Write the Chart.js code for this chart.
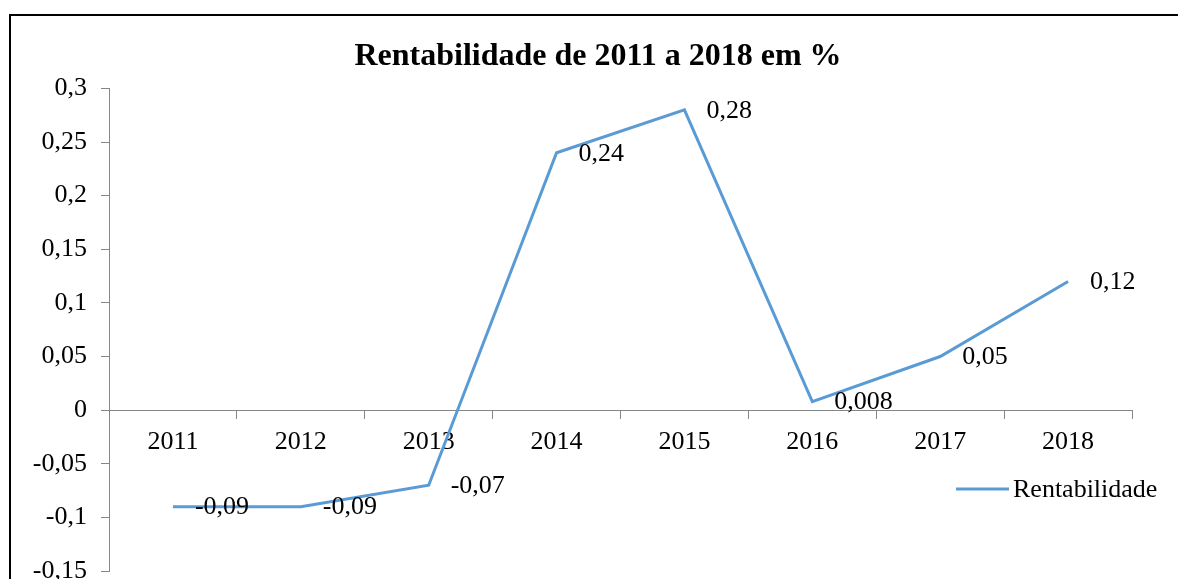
<!DOCTYPE html>
<html>
<head>
<meta charset="utf-8">
<script src="https://cdn.jsdelivr.net/npm/chart.js@4/dist/chart.umd.min.js"></script>
<style>
  html, body { margin: 0; padding: 0; background: #fff; overflow: hidden; }
  #wrap { position: relative; width: 1178px; height: 579px; }
  #frame { position: absolute; left: 9px; top: 14px; width: 1400px; height: 800px; border: 2px solid #000; }
  #chart { position: absolute; left: 0; top: 0; }
</style>
</head>
<body>
<div id="wrap">
  <div id="frame"></div>
  <canvas id="chart" width="1178" height="579"></canvas>
</div>
<script>
// dados
const anos = ["2011", "2012", "2013", "2014", "2015", "2016", "2017", "2018"];
const rentabilidade = [-0.09, -0.09, -0.07, 0.24, 0.28, 0.008, 0.05, 0.12];
const yMin = -0.15;
const yMax = 0.3;
const yStep = 0.05;

const FONT = "'Liberation Serif', 'Times New Roman', serif";
const AXIS_GREY = "#868686";
const LINE_BLUE = "#5B9BD5";

// número com vírgula decimal
function fmt(v) {
  return String(Number(v.toFixed(3))).replace(".", ",");
}

// rótulos de dados à direita de cada ponto
const dataLabels = {
  id: "dataLabels",
  afterDatasetsDraw(chart) {
    const ctx = chart.ctx;
    const meta = chart.getDatasetMeta(0);
    ctx.save();
    ctx.font = "26px " + FONT;
    ctx.fillStyle = "#000";
    ctx.textAlign = "left";
    ctx.textBaseline = "middle";
    meta.data.forEach((pt, i) => {
      ctx.fillText(fmt(chart.data.datasets[0].data[i]), pt.x + 22, pt.y + 1);
    });
    ctx.restore();
  },
};

// legenda à direita, sobre a área do gráfico
const sideLegend = {
  id: "sideLegend",
  afterDraw(chart) {
    const ctx = chart.ctx;
    const ds = chart.data.datasets[0];
    const x0 = chart.chartArea.right - 176;
    const y0 = 489;
    ctx.save();
    ctx.strokeStyle = ds.borderColor;
    ctx.lineWidth = 3;
    ctx.beginPath();
    ctx.moveTo(x0, y0);
    ctx.lineTo(x0 + 53, y0);
    ctx.stroke();
    ctx.font = "26px " + FONT;
    ctx.fillStyle = "#000";
    ctx.textBaseline = "middle";
    ctx.fillText(ds.label, x0 + 57, y0 + 1);
    ctx.restore();
  },
};

new Chart(document.getElementById("chart").getContext("2d"), {
  type: "line",
  data: {
    labels: anos,
    datasets: [
      {
        label: "Rentabilidade",
        data: rentabilidade,
        borderColor: LINE_BLUE,
        backgroundColor: LINE_BLUE,
        borderWidth: 3,
        pointRadius: 0,
        tension: 0,
      },
    ],
  },
  options: {
    responsive: false,
    animation: false,
    devicePixelRatio: 1,
    layout: { padding: { left: 18, right: 0, top: 0, bottom: 8 } },
    plugins: {
      legend: { display: false },
      tooltip: { enabled: false },
      title: {
        display: true,
        text: "Rentabilidade de 2011 a 2018 em %",
        color: "#000",
        font: { family: FONT, size: 32, weight: "bold" },
        padding: { top: 38, bottom: 12 },
      },
    },
    scales: {
      x: {
        type: "category",
        position: { y: 0 },
        offset: true,
        afterFit(scale) {
          scale.height = 10;
          scale.paddingLeft = 0;
          scale.paddingRight = 0;
        },
        grid: {
          drawOnChartArea: false,
          offset: true,
          color: AXIS_GREY,
          tickColor: AXIS_GREY,
          tickLength: 8,
        },
        border: { display: true, color: AXIS_GREY, width: 1 },
        ticks: {
          color: "#000",
          font: { family: FONT, size: 26 },
          padding: 8,
          maxRotation: 0,
          autoSkip: false,
        },
      },
      y: {
        min: yMin,
        max: yMax,
        afterFit(scale) {
          scale.width = 91;
          scale.paddingTop = 0;
          scale.paddingBottom = 0;
        },
        grid: {
          drawOnChartArea: false,
          color: AXIS_GREY,
          tickColor: AXIS_GREY,
          tickLength: 8,
        },
        border: { display: true, color: AXIS_GREY, width: 1 },
        ticks: {
          stepSize: yStep,
          color: "#000",
          font: { family: FONT, size: 26 },
          padding: 14,
          callback: (v) => fmt(v),
        },
      },
      // eixo vazio à direita só para reservar o espaço da margem
      margemDireita: {
        type: "linear",
        position: "right",
        display: true,
        afterFit(scale) {
          scale.width = 46;
          scale.paddingTop = 0;
          scale.paddingBottom = 0;
        },
        grid: { display: false, drawTicks: false },
        border: { display: false },
        ticks: { display: false },
      },
    },
  },
  plugins: [dataLabels, sideLegend],
});
</script>
</body>
</html>
